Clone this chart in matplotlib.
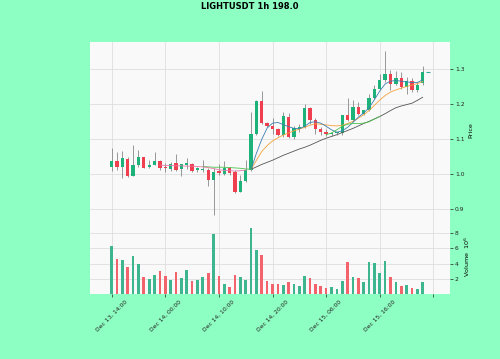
import numpy as np
import matplotlib.pyplot as plt

# OHLC (hourly candles, index 0 = Dec 13 14:00)
opens = [1.022, 1.038, 1.022, 1.044, 0.995, 1.027, 1.048, 1.020, 1.027, 1.038,
         1.022, 1.015, 1.031, 1.014, 1.025, 1.030, 1.012, 1.012, 1.012, 0.984,
         1.010, 1.000, 1.017, 1.006, 0.950, 0.981, 1.012, 1.115, 1.208, 1.147,
         1.139, 1.130, 1.112, 1.165, 1.105, 1.130, 1.136, 1.190, 1.155, 1.130,
         1.122, 1.115, 1.117, 1.118, 1.170, 1.155, 1.193, 1.171, 1.183, 1.218,
         1.243, 1.268, 1.287, 1.257, 1.276, 1.250, 1.266, 1.240, 1.260]
highs = [1.074, 1.063, 1.065, 1.050, 1.084, 1.070, 1.050, 1.040, 1.063, 1.040,
         1.031, 1.036, 1.057, 1.030, 1.046, 1.032, 1.022, 1.041, 1.017, 1.017,
         1.030, 1.038, 1.020, 1.012, 0.998, 1.041, 1.177, 1.212, 1.239, 1.150,
         1.160, 1.132, 1.178, 1.175, 1.137, 1.145, 1.200, 1.193, 1.160, 1.135,
         1.130, 1.122, 1.122, 1.170, 1.217, 1.211, 1.207, 1.185, 1.228, 1.256,
         1.287, 1.352, 1.297, 1.295, 1.293, 1.278, 1.276, 1.264, 1.309]
lows = [1.008, 1.012, 0.989, 0.993, 0.995, 1.022, 1.017, 1.017, 1.025, 1.012,
        1.006, 1.010, 1.009, 0.995, 1.016, 1.005, 1.005, 1.005, 0.965, 0.884,
        0.998, 0.998, 0.998, 0.945, 0.948, 0.978, 1.010, 1.112, 1.145, 1.136,
        1.115, 1.110, 1.107, 1.104, 1.100, 1.122, 1.133, 1.145, 1.114, 1.112,
        1.110, 1.110, 1.112, 1.112, 1.152, 1.152, 1.170, 1.170, 1.180, 1.216,
        1.240, 1.265, 1.241, 1.255, 1.243, 1.228, 1.234, 1.234, 1.255]
closes = [1.038, 1.022, 1.046, 0.995, 1.027, 1.048, 1.019, 1.027, 1.038, 1.019,
          1.017, 1.030, 1.012, 1.028, 1.031, 1.010, 1.017, 1.016, 0.984, 1.006,
          1.004, 1.019, 1.003, 0.950, 0.982, 1.012, 1.115, 1.210, 1.147, 1.139,
          1.130, 1.112, 1.167, 1.106, 1.133, 1.136, 1.190, 1.155, 1.130, 1.122,
          1.115, 1.118, 1.120, 1.170, 1.155, 1.193, 1.171, 1.183, 1.218, 1.243,
          1.268, 1.287, 1.257, 1.276, 1.250, 1.266, 1.240, 1.256, 1.292]
# volume in millions
volumes = [6.3, 4.67, 4.44, 3.5, 5.0, 4.0, 2.27, 1.96, 2.44, 3.07,
           2.36, 1.82, 2.93, 2.09, 3.16, 1.69, 1.82, 2.18, 2.8, 7.87,
           2.36, 1.29, 0.93, 2.44, 2.18, 1.82, 8.67, 5.73, 5.11, 1.73,
           1.29, 1.38, 1.16, 1.6, 1.3, 1.1, 2.4, 2.1, 1.3, 1.05,
           0.75, 0.9, 0.6, 1.7, 4.2, 2.2, 2.15, 1.6, 4.2, 4.1,
           2.8, 4.4, 2.2, 1.6, 1.05, 1.15, 0.85, 0.6, 1.6]

# overlay lines starting at candle 26
line_start = 26
fast_line = [1.014, 1.060, 1.100, 1.132, 1.146, 1.148, 1.142, 1.136, 1.131, 1.130,
             1.137, 1.148, 1.150, 1.146, 1.137, 1.127, 1.120, 1.124, 1.134, 1.148,
             1.163, 1.175, 1.190, 1.213, 1.238, 1.258, 1.266, 1.268, 1.266, 1.264,
             1.262, 1.262, 1.270]
mid_line = [1.014, 1.040, 1.065, 1.082, 1.095, 1.104, 1.112, 1.118, 1.124, 1.129,
            1.134, 1.140, 1.144, 1.143, 1.141, 1.139, 1.138, 1.140, 1.145, 1.151,
            1.160, 1.170, 1.182, 1.197, 1.212, 1.225, 1.235, 1.241, 1.246, 1.251,
            1.255, 1.259, 1.265]
slow_line = [1.014, 1.021, 1.028, 1.034, 1.040, 1.047, 1.054, 1.060, 1.066, 1.072,
             1.077, 1.083, 1.090, 1.097, 1.103, 1.108, 1.113, 1.119, 1.125, 1.131,
             1.138, 1.145, 1.151, 1.158, 1.165, 1.173, 1.182, 1.190, 1.195, 1.199,
             1.203, 1.211, 1.220]
# short segments
green_a_x = [17, 18, 19, 20, 21, 22, 23, 24, 25, 26]
green_a = [1.022, 1.021, 1.020, 1.020, 1.020, 1.019, 1.018, 1.017, 1.015, 1.014]
green_b_x = [40, 41, 42, 43, 44, 45, 46, 47, 48, 49, 50]
green_b = [1.113, 1.118, 1.127, 1.137, 1.143, 1.145, 1.145, 1.146, 1.150, 1.158, 1.165]
pink_x = [9, 10, 11, 12, 13, 14, 15, 16, 17, 18, 19, 20, 21, 22, 23, 24, 25]
pink = [1.026, 1.025, 1.025, 1.024, 1.024, 1.023, 1.023, 1.022, 1.021, 1.019,
        1.016, 1.013, 1.011, 1.010, 1.009, 1.010, 1.012]
last_mark = 1.293

tick_pos = [0, 10, 20, 30, 40, 50, 60]
tick_labels = ['Dec 13, 14:00', 'Dec 14, 00:00', 'Dec 14, 10:00', 'Dec 14, 20:00',
               'Dec 15, 06:00', 'Dec 15, 16:00', '']

up_c, down_c = '#1db27a', '#f0404f'
vup_c, vdown_c = '#3db58e', '#f2636c'

o = np.array(opens); c = np.array(closes)
x = np.arange(len(o))
up = c >= o

fig = plt.figure(figsize=(5, 3.59), dpi=100, facecolor='#8effc2')
ax = fig.add_axes([0.18, 0.39, 0.72, 0.493])
axv = fig.add_axes([0.18, 0.181, 0.72, 0.209], sharex=ax)

for a in (ax, axv):
    a.set_facecolor('#f9f9f9')
    a.grid(True, color='#dedede', lw=0.6)
    a.set_axisbelow(True)
    for s in a.spines.values():
        s.set_visible(False)
    a.yaxis.tick_right()
    a.yaxis.set_label_position('right')
    a.tick_params(labelsize=4.3, length=2, width=0.5, pad=1.5, colors='#222222')

# candles
ax.vlines(x, lows, highs, color='#888888', lw=0.6, zorder=2)
body_h = np.maximum(np.abs(c - o), 0.002)
ax.bar(x, body_h, bottom=np.minimum(o, c), width=0.62,
       color=np.where(up, up_c, down_c), zorder=3, linewidth=0)

# overlay lines
lx = np.arange(line_start, line_start + len(fast_line))
ax.plot(lx, slow_line, color='#555555', lw=0.6, zorder=4)
ax.plot(lx, mid_line, color='#f5a13a', lw=0.6, zorder=4)
ax.plot(lx, fast_line, color='#3c7fb0', lw=0.6, zorder=4)
ax.plot(green_a_x, green_a, color='#4cc24c', lw=0.6, zorder=4)
ax.plot(green_b_x, green_b, color='#4cc24c', lw=0.6, zorder=4)
ax.plot(pink_x, pink, color='#e879a8', lw=0.6, zorder=4)
ax.plot([len(o)], [last_mark], marker='_', color='#3aa6a0', ms=3, mew=0.8)

ax.set_ylim(0.872, 1.378)
ax.set_yticks([0.9, 1.0, 1.1, 1.2, 1.3])
ax.set_ylabel('Price', fontsize=4.6, labelpad=3)
ax.tick_params(axis='x', labelbottom=False, length=0)

# volume
axv.bar(x, volumes, width=0.5, color=np.where(up, vup_c, vdown_c), zorder=3)
axv.set_ylim(0, 9.87)
axv.set_yticks([2, 4, 6, 8])
axv.set_ylabel('Volume  $10^6$', fontsize=4.6, labelpad=3)

axv.set_xlim(-4.04, 63.1)
axv.set_xticks(tick_pos)
axv.set_xticklabels(tick_labels, rotation=45, fontsize=4.3)

fig.text(0.5, 1 - 6.5 / 359, 'LIGHTUSDT 1h 198.0', ha='center', va='center',
         fontsize=6, fontweight='bold')

plt.savefig('out.png', dpi=100, facecolor=fig.get_facecolor())
